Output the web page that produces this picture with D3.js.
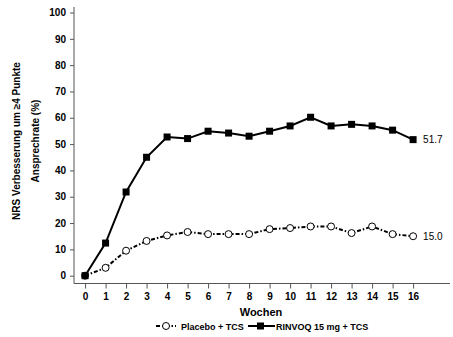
<!DOCTYPE html>
<html>
<head>
<meta charset="utf-8">
<script src="https://cdn.jsdelivr.net/npm/d3@7"></script>
<style>
  body { margin: 0; background: #fff; }
  svg { display: block; font-family: "Liberation Sans", Arial, sans-serif; }
  .axis text { font-size: 10px; font-weight: bold; fill: #000; }
  .axis path, .axis line { stroke: #555; }
</style>
</head>
<body>
<svg width="453" height="337"></svg>
<script>
const weeks = d3.range(0, 17);
const placebo = [0, 3.0, 9.5, 13.2, 15.3, 16.6, 15.8, 15.8, 15.8, 17.7, 18.1, 18.7, 18.7, 16.2, 18.7, 15.8, 15.0];
const rinvoq = [0, 12.4, 31.8, 45.0, 52.7, 52.1, 54.9, 54.2, 53.0, 54.9, 56.9, 60.2, 56.9, 57.5, 56.9, 55.3, 51.7];
const yTicks = d3.range(0, 101, 10);
const seriesNames = ['Placebo + TCS', 'RINVOQ 15 mg + TCS'];

const svg = d3.select('svg');

const x = d3.scaleLinear()
  .domain([-0.54, 17.8])
  .range([74, 450]);

const y = d3.scaleLinear()
  .domain([0, 100])
  .range([275.7, 12.5]);

// axes
svg.append('g')
  .attr('class', 'axis')
  .attr('transform', 'translate(74,0)')
  .call(d3.axisLeft(y).tickValues(yTicks).tickSize(4).tickPadding(4))
  .call(g => g.select('.domain').attr('d', 'M0,7V283.5'));

svg.append('g')
  .attr('class', 'axis')
  .attr('transform', 'translate(0,283.5)')
  .call(d3.axisBottom(x).tickValues(weeks).tickSize(5).tickPadding(4))
  .call(g => g.select('.domain').attr('d', 'M74,0H450'));

// axis titles
svg.append('text')
  .attr('transform', 'translate(20,141) rotate(-90)')
  .attr('text-anchor', 'middle')
  .style('font-size', '10px')
  .style('font-weight', 'bold')
  .text('NRS Verbesserung um ≥4 Punkte');

svg.append('text')
  .attr('transform', 'translate(39,141) rotate(-90)')
  .attr('text-anchor', 'middle')
  .style('font-size', '10px')
  .style('font-weight', 'bold')
  .text('Ansprechrate (%)');

svg.append('text')
  .attr('x', 261)
  .attr('y', 316)
  .attr('text-anchor', 'middle')
  .style('font-size', '11px')
  .style('font-weight', 'bold')
  .text('Wochen');

const line = d3.line()
  .x((d, i) => x(weeks[i]))
  .y(d => y(d));

// placebo: dash-dot line with open circles
svg.append('path')
  .datum(placebo)
  .attr('d', line)
  .attr('fill', 'none')
  .attr('stroke', '#000')
  .attr('stroke-width', 2)
  .attr('stroke-dasharray', '4,2,1.5,2');

svg.selectAll('.pcirc')
  .data(placebo)
  .enter().append('circle')
    .attr('class', 'pcirc')
    .attr('cx', (d, i) => x(weeks[i]))
    .attr('cy', d => y(d))
    .attr('r', 3.5)
    .attr('fill', '#fff')
    .attr('stroke', '#000')
    .attr('stroke-width', 1);

// rinvoq: solid line with filled squares
svg.append('path')
  .datum(rinvoq)
  .attr('d', line)
  .attr('fill', 'none')
  .attr('stroke', '#000')
  .attr('stroke-width', 2);

svg.selectAll('.rsq')
  .data(rinvoq)
  .enter().append('rect')
    .attr('class', 'rsq')
    .attr('x', (d, i) => x(weeks[i]) - 3.5)
    .attr('y', d => y(d) - 3.5)
    .attr('width', 7)
    .attr('height', 7)
    .attr('fill', '#000');

// end labels
const last = weeks.length - 1;
svg.append('text')
  .attr('x', x(weeks[last]) + 10)
  .attr('y', y(rinvoq[last]) + 3.5)
  .style('font-size', '10px')
  .text(rinvoq[last].toFixed(1));

svg.append('text')
  .attr('x', x(weeks[last]) + 10)
  .attr('y', y(placebo[last]) + 3.5)
  .style('font-size', '10px')
  .text(placebo[last].toFixed(1));

// legend
const legend = svg.append('g').attr('transform', 'translate(0,326)');

legend.append('line')
  .attr('x1', 156).attr('x2', 176)
  .attr('stroke', '#000').attr('stroke-width', 2)
  .attr('stroke-dasharray', '4,2,1.5,2');
legend.append('circle')
  .attr('cx', 166).attr('r', 3.5)
  .attr('fill', '#fff').attr('stroke', '#000');
legend.append('text')
  .attr('x', 181).attr('y', 3.5)
  .style('font-size', '9px').style('font-weight', 'bold')
  .text(seriesNames[0]);

legend.append('line')
  .attr('x1', 248).attr('x2', 275)
  .attr('stroke', '#000').attr('stroke-width', 2);
legend.append('rect')
  .attr('x', 257).attr('y', -3.5)
  .attr('width', 7).attr('height', 7)
  .attr('fill', '#000');
legend.append('text')
  .attr('x', 276).attr('y', 3.5)
  .style('font-size', '9px').style('font-weight', 'bold')
  .text(seriesNames[1]);
</script>
</body>
</html>
